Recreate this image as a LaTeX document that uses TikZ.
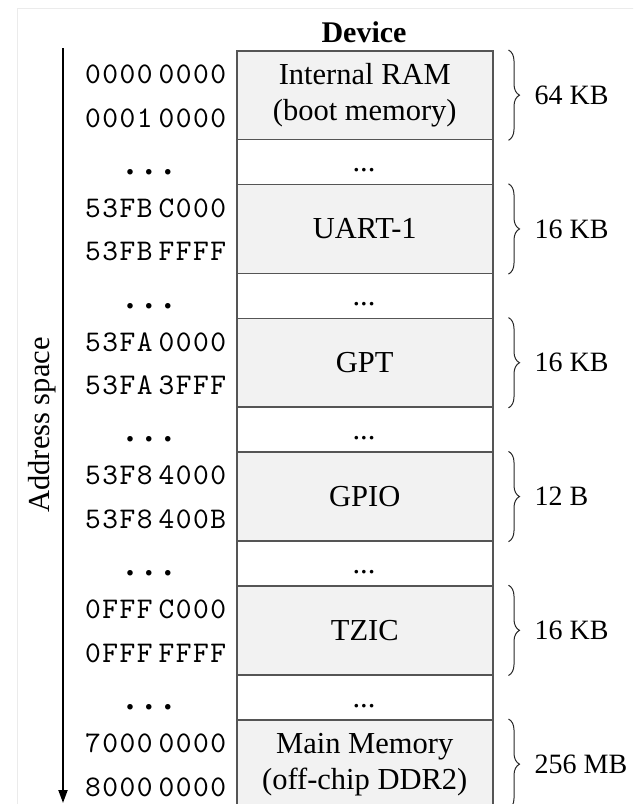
\documentclass[tikz,border=0pt]{standalone}
\usepackage{fontspec}
\setmainfont{Liberation Serif}
\newfontfamily\addrfont{lmmono10-regular.otf}[LetterSpace=5]
\usetikzlibrary{arrows.meta,decorations.pathreplacing}
\definecolor{cellfill}{HTML}{F2F2F2}
\definecolor{cellline}{HTML}{555555}
\definecolor{framegray}{HTML}{EBEBEB}
\newcommand{\addrsep}{\hspace{6pt}}
\begin{document}
\begin{tikzpicture}[x=1pt,y=-1pt,
  cell/.style={draw=cellline, line width=1.5pt, minimum width=256pt, anchor=north west, inner sep=0pt},
  devcell/.style={cell, fill=cellfill, minimum height=88.8pt},
  gapcell/.style={cell, fill=white, minimum height=45pt},
  devtext/.style={font=\fontsize{30.5}{36}\selectfont, align=center, inner sep=0pt},
  dotstext/.style={font=\fontsize{30.5}{30.5}\selectfont, anchor=base, inner sep=0pt},
  addr/.style={font=\addrfont\fontsize{30}{30}\selectfont, anchor=base west, inner sep=0pt},
  addrdots/.style={font=\bfseries\fontsize{34}{34}\selectfont, anchor=base, inner sep=0pt},
  sizetext/.style={font=\fontsize{28}{28}\selectfont, anchor=west, inner sep=0pt},
  sizebrace/.style={draw=black!85, line width=1pt, decorate, decoration={brace, amplitude=11pt}},
  axis/.style={line width=2pt, -{Triangle[length=13pt,width=9pt]}},
]
\useasboundingbox (0,0) rectangle (633,804);
\clip (0,0) rectangle (633,804);

% faint outer frame
\draw[framegray, line width=1pt] (17,8) rectangle (700,900);

% column header
\node[font=\bfseries\fontsize{30}{30}\selectfont, inner sep=0pt] (header) at (364,32) {Device};

% memory map rows: device cell, address range, size brace, gap row
\foreach \i/\dev/\lo/\hi/\sz in {
  0/{Internal RAM\\(boot memory)}/{0000\addrsep 0000}/{0001\addrsep 0000}/{64 KB},
  1/{UART-1}/{53FB\addrsep C000}/{53FB\addrsep FFFF}/{16 KB},
  2/{GPT}/{53FA\addrsep 0000}/{53FA\addrsep 3FFF}/{16 KB},
  3/{GPIO}/{53F8\addrsep 4000}/{53F8\addrsep 400B}/{12 B},
  4/{TZIC}/{0FFF\addrsep C000}/{0FFF\addrsep FFFF}/{16 KB},
  5/{Main Memory\\(off-chip DDR2)}/{7000\addrsep 0000}/{8000\addrsep 0000}/{256 MB}}{
  \pgfmathsetmacro{\rowtop}{50+133.8*\i}
  \node[devcell] (dev\i) at (236,\rowtop) {};
  \node[devtext] (devname\i) at (dev\i.center) {\dev};
  \node[addr] (addrlo\i) at (85,\rowtop+33.5) {\lo};
  \node[addr] (addrhi\i) at (85,\rowtop+77) {\hi};
  \draw[sizebrace] ([xshift=15pt]dev\i.north east) -- ([xshift=15pt]dev\i.south east);
  \node[sizetext] (size\i) at ([xshift=41pt]dev\i.east) {\sz};
  \ifnum\i<5
    \node[gapcell] (gap\i) at (236,\rowtop+88.8) {};
    \node[dotstext] (gapdots\i) at (364,\rowtop+88.8+33) {...};
    \node[addrdots] (addrdots\i) at (149,\rowtop+88.8+35.5) {.\kern10.5pt.\kern10.5pt.};
  \fi
}

% address axis
\coordinate (axtop) at (63,48);
\coordinate (axbot) at (63,803);
\draw[axis] (axtop) -- (axbot);
\node[rotate=90, font=\fontsize{30.5}{30.5}\selectfont, inner sep=0pt] (axislabel) at (42,425) {Address space};
\end{tikzpicture}
\end{document}
